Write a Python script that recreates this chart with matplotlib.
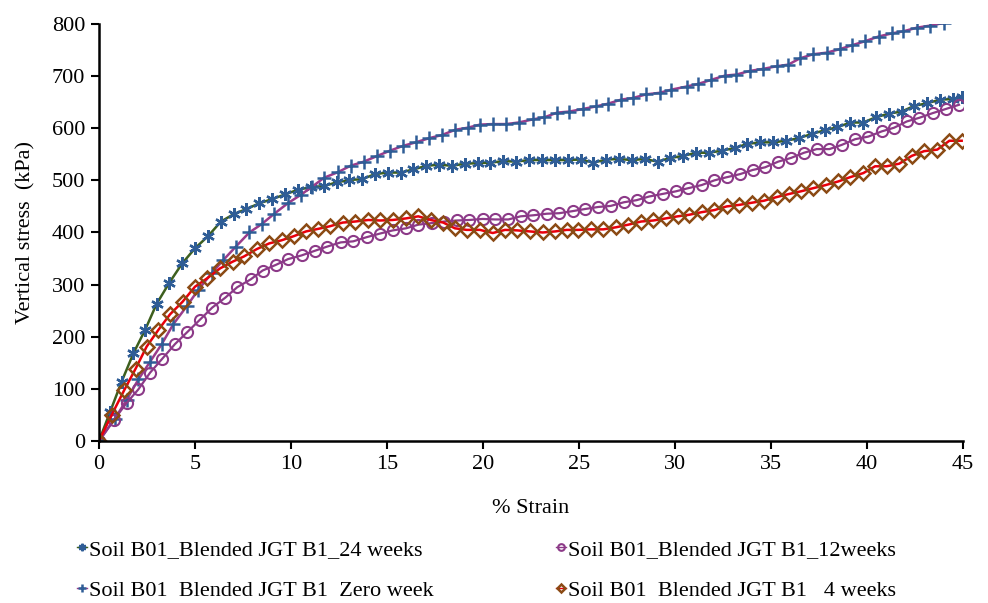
import matplotlib
matplotlib.use("Agg")
import matplotlib.pyplot as plt

plt.rcParams['font.family'] = ['Liberation Serif', 'DejaVu Serif']

# ---- data ----
strain_24w = [0, 0.57, 1.18, 1.79, 2.40, 3.00, 3.67, 4.34, 5.01, 5.68, 6.35, 7.01, 7.68, 8.35,
              9.02, 9.69, 10.36, 11.03, 11.70, 12.37, 13.04, 13.70, 14.37, 15.04, 15.71, 16.38,
              17.05, 17.72, 18.39, 19.06, 19.73, 20.39, 21.06, 21.73, 22.40, 23.07, 23.74, 24.41,
              25.08, 25.75, 26.42, 27.08, 27.75, 28.42, 29.09, 29.76, 30.43, 31.10, 31.77, 32.44,
              33.11, 33.77, 34.44, 35.11, 35.78, 36.45, 37.12, 37.79, 38.46, 39.13, 39.80, 40.46,
              41.13, 41.80, 42.47, 43.14, 43.81, 44.48, 44.93]
stress_24w = [0, 55, 114, 168, 213, 263, 304, 341, 370, 393, 421, 435, 445, 456, 464, 473, 482,
              487, 489, 496, 501, 502, 512, 515, 515, 521, 528, 530, 528, 532, 533, 534, 537, 536,
              539, 539, 539, 539, 540, 534, 540, 541, 539, 541, 536, 543, 547, 553, 553, 557, 562,
              570, 573, 573, 576, 581, 589, 596, 602, 611, 611, 621, 628, 632, 643, 648, 655, 656,
              660]

strain_0w = [0, 0.83, 1.44, 2.05, 2.66, 3.27, 3.87, 4.56, 5.17, 5.87, 6.47, 7.13, 7.83, 8.47,
             9.13, 9.83, 10.50, 11.07, 11.72, 12.46, 13.10, 13.80, 14.50, 15.16, 15.82, 16.50,
             17.20, 17.86, 18.55, 19.20, 19.84, 20.50, 21.20, 21.85, 22.60, 23.20, 23.86, 24.50,
             25.20, 25.90, 26.50, 27.20, 27.80, 28.50, 29.20, 29.80, 30.60, 31.20, 31.90, 32.60,
             33.20, 33.90, 34.60, 35.30, 35.90, 36.50, 37.20, 37.90, 38.60, 39.20, 39.90, 40.60,
             41.30, 41.90, 42.60, 43.30, 44.00]
stress_0w = [0, 43, 79, 118, 152, 186, 224, 258, 290, 322, 347, 373, 400, 416, 436, 456, 472,
             487, 505, 516, 528, 536, 547, 557, 566, 573, 581, 587, 597, 601, 607, 608, 608, 611,
             617, 621, 630, 632, 637, 642, 647, 655, 658, 665, 668, 674, 680, 685, 693, 701, 703,
             710, 714, 719, 722, 734, 742, 745, 752, 759, 767, 776, 782, 786, 793, 797, 802]

strain_12w = [0, 0.77, 1.44, 2.05, 2.66, 3.30, 3.96, 4.60, 5.24, 5.90, 6.58, 7.20, 7.90, 8.52,
              9.22, 9.85, 10.55, 11.25, 11.89, 12.59, 13.24, 13.94, 14.64, 15.30, 15.99, 16.63,
              17.33, 17.97, 18.63, 19.29, 19.98, 20.63, 21.32, 21.96, 22.62, 23.32, 23.97, 24.67,
              25.31, 26.01, 26.65, 27.34, 28.00, 28.65, 29.36, 30.05, 30.69, 31.39, 32.05, 32.69,
              33.39, 34.05, 34.69, 35.38, 36.04, 36.72, 37.38, 38.04, 38.68, 39.38, 40.07, 40.77,
              41.41, 42.07, 42.72, 43.42, 44.11, 44.79]
stress_12w = [0, 40, 73, 99, 131, 158, 186, 209, 232, 256, 275, 295, 310, 327, 338, 349, 356,
              365, 373, 381, 383, 391, 398, 404, 408, 415, 418, 421, 423, 424, 426, 425, 425, 431,
              433, 436, 437, 441, 445, 449, 451, 458, 462, 469, 474, 479, 485, 491, 500, 506, 512,
              520, 525, 536, 543, 553, 560, 560, 568, 579, 584, 594, 601, 613, 620, 629, 637, 645]

strain_4w = [0, 0.66, 1.32, 1.91, 2.48, 3.09, 3.70, 4.35, 5.00, 5.63, 6.30, 6.96, 7.55, 8.21,
             8.86, 9.51, 10.15, 10.78, 11.42, 12.03, 12.69, 13.33, 14.03, 14.64, 15.30, 15.99,
             16.63, 17.28, 17.93, 18.54, 19.15, 19.84, 20.51, 21.15, 21.79, 22.45, 23.11, 23.75,
             24.36, 24.96, 25.61, 26.27, 26.93, 27.57, 28.23, 28.87, 29.52, 30.14, 30.74, 31.39,
             32.05, 32.69, 33.35, 33.99, 34.64, 35.30, 35.95, 36.56, 37.20, 37.85, 38.51, 39.11,
             39.81, 40.42, 41.02, 41.68, 42.33, 42.97, 43.66, 44.29, 44.93]
stress_4w = [0, 50, 98, 139, 181, 213, 243, 267, 296, 312, 331, 344, 354, 368, 379, 385, 393,
             402, 407, 412, 419, 421, 424, 423, 424, 427, 431, 424, 419, 408, 405, 405, 399, 405,
             404, 402, 400, 402, 405, 405, 406, 406, 410, 415, 421, 423, 427, 431, 434, 439, 443,
             450, 453, 457, 461, 468, 474, 479, 485, 491, 498, 506, 514, 527, 527, 532, 547, 556,
             559, 576, 576]

labels = ["Soil B01_Blended JGT B1_24 weeks",
          "Soil B01  Blended JGT B1  Zero week",
          "Soil B01_Blended JGT B1_12weeks",
          "Soil B01  Blended JGT B1   4 weeks"]

x_ticks = [0, 5, 10, 15, 20, 25, 30, 35, 40, 45]
y_ticks = [0, 100, 200, 300, 400, 500, 600, 700, 800]

# ---- figure ----
fig = plt.figure(figsize=(9.88, 6.03), dpi=100)
ax = fig.add_axes([0.1002, 0.2687, 0.8745, 0.6915])

blue = '#2f5d96'
h24, = ax.plot(strain_24w, stress_24w, color='#3d5f1e', lw=1.8,
               marker=(6, 2, 0), ms=9, mec=blue, mew=1.7, mfc='none', label=labels[0])
h0, = ax.plot(strain_0w, stress_0w, color='#9a3c8c', lw=1.8,
              marker='+', ms=10, mec=blue, mew=1.8, label=labels[1])
h12, = ax.plot(strain_12w, stress_12w, color='#8c3a88', lw=1.6,
               marker='o', ms=8, mec='#8c3a88', mfc='none', mew=1.5, label=labels[2])
h4, = ax.plot(strain_4w, stress_4w, color='#e8000b', lw=1.8,
              marker='D', ms=7.5, mec='#8b4a14', mfc='none', mew=1.8, label=labels[3])

ax.set_xlim(0, 45)
ax.set_ylim(0, 800)
ax.set_xticks(x_ticks)
ax.set_yticks(y_ticks)
for s in ['top', 'right']:
    ax.spines[s].set_visible(False)
for s in ['left', 'bottom']:
    ax.spines[s].set_linewidth(1.8)
    ax.spines[s].set_color('black')
ax.tick_params(direction='out', length=6, width=1.5, labelsize=16, pad=4)
ax.set_xlabel('% Strain', fontsize=16, labelpad=18)
ax.set_ylabel('Vertical stress  (kPa)', fontsize=16, labelpad=12)

leg = fig.legend(handles=[h24, h0, h12, h4], labels=labels, ncol=2,
                 loc='upper left', bbox_to_anchor=(0.069, 0.12), frameon=False,
                 fontsize=16, handlelength=0.45, handletextpad=0.1, columnspacing=5.5,
                 markerscale=0.6, labelspacing=0.92, borderaxespad=0)
for line in leg.get_lines():
    line.set_linewidth(1.0)

fig.savefig('out.png', dpi=100)
